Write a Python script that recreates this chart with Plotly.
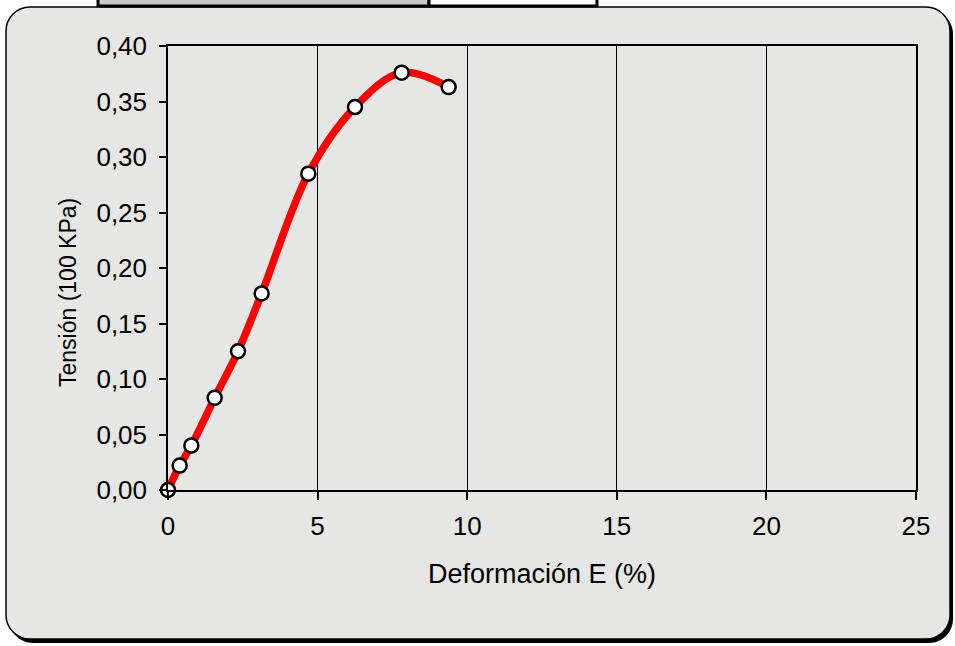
import plotly.graph_objects as go

# Data
deformacion = [0.0, 0.39, 0.78, 1.56, 2.34, 3.13, 4.69, 6.25, 7.81, 9.38]
tension = [0.000, 0.022, 0.040, 0.083, 0.125, 0.177, 0.285, 0.345, 0.376, 0.363]
x_ticks = [0, 5, 10, 15, 20, 25]
y_ticks = [0.00, 0.05, 0.10, 0.15, 0.20, 0.25, 0.30, 0.35, 0.40]

W, H = 955, 646
L, R, T, B = 168, 916, 46, 490  # plot area in pixels


def px(xp):
    return (xp - L) / (R - L)


def py(yp):
    return (B - yp) / (B - T)


def rounded_rect(x0, y0, x1, y1, r):
    k = 0.45
    pts = []
    pts.append(f"M {px(x0 + r)},{py(y0)}")
    pts.append(f"L {px(x1 - r)},{py(y0)}")
    pts.append(f"C {px(x1 - r * k)},{py(y0)} {px(x1)},{py(y0 + r * k)} {px(x1)},{py(y0 + r)}")
    pts.append(f"L {px(x1)},{py(y1 - r)}")
    pts.append(f"C {px(x1)},{py(y1 - r * k)} {px(x1 - r * k)},{py(y1)} {px(x1 - r)},{py(y1)}")
    pts.append(f"L {px(x0 + r)},{py(y1)}")
    pts.append(f"C {px(x0 + r * k)},{py(y1)} {px(x0)},{py(y1 - r * k)} {px(x0)},{py(y1 - r)}")
    pts.append(f"L {px(x0)},{py(y0 + r)}")
    pts.append(f"C {px(x0)},{py(y0 + r * k)} {px(x0 + r * k)},{py(y0)} {px(x0 + r)},{py(y0)}")
    pts.append("Z")
    return " ".join(pts)


FONT = "Liberation Sans, Arial, sans-serif"

fig = go.Figure()
fig.add_trace(go.Scatter(
    x=deformacion, y=tension,
    mode="lines+markers",
    line=dict(color="#ff0000", width=7.5, shape="spline", smoothing=1),
    marker=dict(size=14, color="white", line=dict(color="black", width=2.5)),
    cliponaxis=False,
    showlegend=False,
))

shapes = [
    # shadow
    dict(type="path", xref="paper", yref="paper", layer="below",
         path=rounded_rect(9, 10, 953, 643, 24),
         fillcolor="black", line=dict(width=0)),
    # panel
    dict(type="path", xref="paper", yref="paper", layer="below",
         path=rounded_rect(6, 7, 950, 639, 24),
         fillcolor="#e6e6e4", line=dict(color="black", width=1.5)),
    # box at the top (cropped table)
    dict(type="rect", xref="paper", yref="paper", layer="above",
         x0=px(98), x1=px(429), y0=py(-6), y1=py(6),
         fillcolor="#c8c8c8", line=dict(color="black", width=3)),
    dict(type="rect", xref="paper", yref="paper", layer="above",
         x0=px(429), x1=px(597), y0=py(-6), y1=py(6),
         fillcolor="white", line=dict(color="black", width=3)),
]

fig.update_layout(
    width=W, height=H,
    margin=dict(l=L, r=W - R, t=T, b=H - B, pad=0),
    paper_bgcolor="white",
    plot_bgcolor="rgba(0,0,0,0)",
    separators=", ",
    font=dict(family=FONT, size=26, color="black"),
    shapes=shapes,
    annotations=[
        dict(text="Deformación E (%)", xref="paper", yref="paper",
             x=px(542), y=py(574), xanchor="center", yanchor="middle",
             showarrow=False, font=dict(family=FONT, size=27, color="black")),
        dict(text="Tensión (100 KPa)", xref="paper", yref="paper",
             x=px(68), y=py(293), xanchor="center", yanchor="middle",
             textangle=-90, showarrow=False,
             font=dict(family=FONT, size=23, color="black")),
    ],
)

fig.update_xaxes(
    range=[0, 25], tickvals=x_ticks, ticktext=[str(v) for v in x_ticks],
    showgrid=True, gridcolor="black", gridwidth=1,
    zeroline=False,
    showline=True, linecolor="black", linewidth=1.5, mirror=True,
    ticks="outside", ticklen=8, tickcolor="black", tickwidth=1.5,
    ticklabelstandoff=4,
    automargin=False,
)
fig.update_yaxes(
    range=[0, 0.40], tickvals=y_ticks, tickformat=".2f",
    showgrid=False, zeroline=False,
    showline=True, linecolor="black", linewidth=1.5, mirror=True,
    ticks="outside", ticklen=7, tickcolor="black", tickwidth=1.5,
    ticklabelstandoff=7,
    automargin=False,
)

fig.write_html(
    "out.html",
    config={"displayModeBar": False},
    post_script="document.body.style.margin='0';document.body.style.overflow='hidden';",
)
